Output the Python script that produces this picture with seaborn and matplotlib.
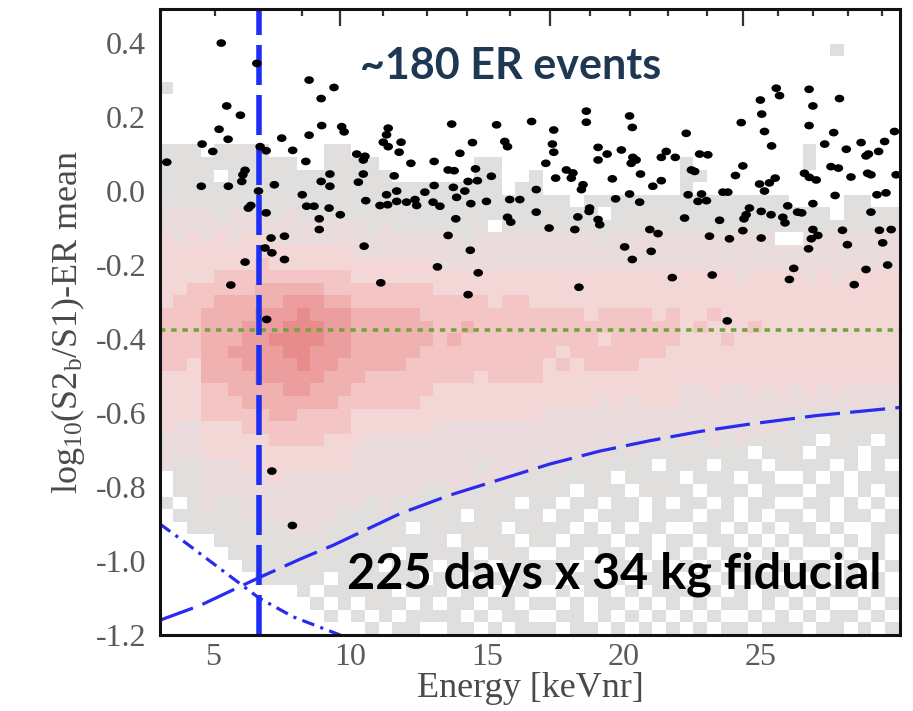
import numpy as np
import pandas as pd
import matplotlib
matplotlib.use("Agg")
import matplotlib.pyplot as plt
import seaborn as sns
from matplotlib.colors import ListedColormap
from matplotlib.ticker import MultipleLocator, FixedLocator, FormatStrFormatter
from matplotlib.path import Path
from matplotlib.transforms import Affine2D

# ---------------- data ----------------
ev_x = [5.30, 6.60, 8.51, 9.42, 8.95, 5.50, 6.00, 5.22, 5.55, 8.97, 9.70, 9.79, 8.51, 7.51, 4.60, 4.99,
        6.72, 6.94, 7.91, 3.31, 8.39, 6.17, 6.09, 6.05, 9.27, 8.95, 9.27, 4.57, 5.56, 7.24, 6.66, 8.26,
        6.29, 6.38, 6.94, 8.42, 8.69, 9.24, 9.65, 8.88, 8.88, 7.12, 7.61, 6.90, 7.15, 7.61, 6.17, 5.65,
        6.96, 7.15, 7.90,
        11.40, 11.34, 11.22, 11.40, 11.87, 11.80, 13.72, 15.36, 16.64, 15.66, 15.76, 14.48, 14.02, 10.25,
        10.55, 10.49, 12.23, 13.08, 13.59, 13.81, 14.59, 15.17, 10.49, 10.31, 11.62, 14.32, 14.66, 13.08,
        13.78, 14.20, 11.71, 11.34, 12.74, 13.90, 10.58, 11.10, 11.38, 11.71, 12.07, 12.38, 12.44, 13.04,
        13.29, 14.42, 14.99, 15.84, 16.21, 15.76, 15.88, 13.87, 13.59, 10.52, 14.40, 13.20, 14.69, 11.13,
        14.32,
        18.64, 18.64, 20.22, 20.32, 17.45, 22.29, 17.40, 17.45, 17.16, 19.07, 19.40, 19.07, 19.92, 20.34,
        20.46, 20.28, 21.56, 21.38, 21.89, 22.78, 23.08, 17.91, 18.15, 18.09, 17.52, 18.52, 18.46, 19.59,
        20.62, 21.38, 21.07, 22.48, 22.60, 16.81, 19.71, 20.22, 20.59, 22.36, 22.85, 23.03, 22.72, 16.81,
        18.76, 18.74, 18.33, 19.07, 19.13, 17.28, 18.22, 22.23, 20.96, 21.26, 23.14, 20.04, 20.32, 21.01,
        21.78, 23.24, 18.37,
        25.58, 25.70, 26.78, 27.89, 25.00, 26.92, 25.05, 24.30, 26.78, 25.15, 27.68, 29.90, 25.41, 27.35,
        28.14, 28.68, 29.54, 28.86, 28.95, 29.32, 24.36, 27.58, 27.85, 24.09, 26.61, 26.79, 27.04, 28.31,
        28.92, 29.04, 29.96, 25.54, 25.33, 25.15, 24.97, 23.63, 23.81, 27.73, 29.26, 29.59, 24.60, 24.48,
        24.40, 25.03, 25.39, 26.00, 26.36, 26.51, 25.82, 25.90, 26.92, 29.04, 23.51, 24.36, 23.87, 25.03,
        26.92, 27.10, 26.86, 28.00, 29.35, 29.78, 26.76, 28.18, 29.47, 26.22, 26.06, 28.86, 29.65, 28.43,
        23.79]
ev_y = [0.400, 0.345, 0.300, 0.280, 0.250, 0.230, 0.205, 0.167, 0.140, 0.177, 0.174, 0.160, 0.151, 0.143,
        0.127, 0.107, 0.120, 0.109, 0.110, 0.078, 0.080, 0.056, 0.044, 0.026, 0.046, 0.026, 0.013, 0.013,
        0.013, 0.017, 0.000, -0.010, -0.046, -0.039, -0.059, -0.041, -0.041, -0.046, -0.064, -0.075,
        -0.104, -0.127, -0.122, -0.154, -0.167, -0.185, -0.192, -0.254, -0.347, -0.757, -0.904,
        0.170, 0.152, 0.132, 0.120, 0.132, 0.105, 0.181, 0.179, 0.188, 0.134, 0.120, 0.131, 0.102, 0.100,
        0.094, 0.084, 0.075, 0.080, 0.057, 0.055, 0.060, 0.040, 0.046, 0.024, 0.041, 0.026, 0.028, 0.015,
        0.010, 0.000, 0.000, -0.010, -0.003, -0.017, -0.026, -0.039, -0.037, -0.028, -0.030, -0.023,
        -0.039, -0.030, -0.041, -0.034, -0.028, -0.023, -0.023, -0.071, -0.084, -0.075, -0.120, -0.149,
        -0.160, -0.205, -0.221, -0.248, -0.280,
        0.216, 0.186, 0.203, 0.172, 0.165, 0.156, 0.127, 0.105, 0.075, 0.118, 0.100, 0.084, 0.111, 0.091,
        0.084, 0.075, 0.107, 0.091, 0.091, 0.100, 0.098, 0.057, 0.049, 0.035, 0.035, 0.017, 0.004, 0.033,
        0.046, 0.028, 0.013, 0.057, 0.053, 0.004, -0.021, -0.008, -0.030, -0.010, -0.008, -0.026, -0.028,
        -0.057, -0.046, -0.055, -0.070, -0.077, -0.091, -0.100, -0.104, -0.073, -0.104, -0.115, -0.122,
        -0.151, -0.185, -0.163, -0.234, -0.227, -0.260,
        0.278, 0.258, 0.275, 0.250, 0.246, 0.230, 0.208, 0.185, 0.177, 0.161, 0.158, 0.161, 0.122, 0.127,
        0.113, 0.131, 0.134, 0.095, 0.100, 0.107, 0.068, 0.066, 0.062, 0.042, 0.048, 0.037, 0.030, 0.038,
        0.048, 0.044, 0.044, 0.035, 0.022, 0.000, 0.019, -0.003, -0.003, -0.012, -0.010, -0.005, -0.046,
        -0.064, -0.075, -0.055, -0.064, -0.040, -0.057, -0.059, -0.071, -0.086, -0.034, -0.057, -0.079,
        -0.107, -0.129, -0.127, -0.104, -0.120, -0.129, -0.106, -0.106, -0.104, -0.156, -0.145, -0.140,
        -0.209, -0.239, -0.212, -0.200, -0.253, -0.351]

# threshold / band curves
cut_x = [3.06, 4.53, 5.73, 6.68, 8.18, 9.40, 11.83, 13.65, 15.48, 17.30, 19.13, 20.95, 22.78, 24.60, 27.04, 30.10]
cut_y = [-1.160, -1.120, -1.078, -1.045, -0.995, -0.957, -0.872, -0.822, -0.780, -0.738, -0.703, -0.675,
         -0.650, -0.630, -0.607, -0.585]
nr_x = [3.06, 4.04, 5.01, 6.68, 7.93, 9.64, 10.0]
nr_y = [-0.900, -0.953, -1.007, -1.100, -1.151, -1.200, -1.212]
threshold_energy = 6.68
er_median_line = -0.375

# 2D-histogram intensity levels (0 = empty ... 7 = most counts), rows from top (y=0.5) to bottom (y=-1.2),
# columns 0.5 keVnr wide from 3.05 keVnr
heat_rows = [
    "000 000 00 000000 000000 00000000 0000000000 00000000 00000000",
    "000 000 00 000000 000000 00000000 0000000000 00000000 00000000",
    "000 000 00 000000 000000 00000000 0000000000 00000000 00000000",
    "000 000 00 000000 000000 00000000 0000000000 00000000 00010000",
    "000 000 00 000000 000000 00000000 0000000000 00000000 00000000",
    "000 000 00 000000 000000 00000000 0000000000 00000000 00000000",
    "100 000 00 000000 000000 00000000 0000000000 00000000 00000000",
    "000 000 00 000000 000000 00000000 0000000000 00000000 00000000",
    "000 000 00 000000 000000 00000000 0000000000 00000000 00000000",
    "000 000 00 000000 000000 00000000 0000000000 00000000 00000000",
    "000 000 00 000000 000000 00000000 0000000000 00000000 00000000",
    "111 011 11 000011 000000 00000000 0000000000 00000000 01000000",
    "111 111 11 110011 110000 00011000 0000000000 10000000 01000000",
    "111 101 11 111111 111000 00011001 0000000000 11000000 00000000",
    "111 111 11 111111 111111 11111011 0000000000 10000000 00000000",
    "111 111 11 111111 111111 11111111 1101111111 11111111 00001100",
    "222 212 22 121111 111111 11111111 1111011111 11111111 11101111",
    "222 222 22 222222 212111 11110111 1111111111 11111111 11111111",
    "323 232 33 222222 222222 22122222 2222122222 22222220 02222222",
    "333 333 33 333333 222222 22222222 2222222222 22222222 22222222",
    "333 333 34 333333 333333 22222222 2222222222 22222222 22222222",
    "333 344 44 444444 333333 33333333 3333333333 33332333 32323333",
    "334 444 45 555544 444444 33333333 3333333333 33333333 33333333",
    "344 455 55 566655 444444 44443443 3333333333 33333333 33333333",
    "444 555 56 667666 555554 44444444 4443444434 33433333 33333333",
    "444 555 66 677766 555555 44544444 4444444444 34333433 33333333",
    "444 555 66 777766 555555 45444444 4444344444 33343333 33333333",
    "444 556 66 677666 555554 44444444 4344444443 33333333 33333333",
    "443 555 66 667665 555544 44444444 3434444333 33333333 33333333",
    "333 555 56 666655 544444 44434444 3333333333 33333333 33333333",
    "333 445 55 566555 444444 33333333 3333333333 22322323 23232222",
    "333 444 55 555554 444443 33333333 3333232333 22222222 22222222",
    "333 444 44 554444 333333 33333333 2222222222 22222222 11111111",
    "322 333 44 444444 333333 22222222 2222222222 22222222 11111111",
    "222 333 33 444433 322222 22222222 2222221221 21212111 11011101",
    "222 333 33 333333 222222 22222222 2222212111 11111011 10111011",
    "211 222 33 333333 222222 22212222 1211111101 11011101 11101010",
    "011 222 22 322222 222222 22222211 1111101111 01110110 01010111",
    "011 222 22 222222 222221 12211111 1101110111 10111011 10110101",
    "101 211 22 222222 212111 11111101 1011011010 11010110 01101010",
    "011 111 22 222221 111111 11011111 0110111011 10110101 10101101",
    "001 111 11 122211 111101 11111011 1101010110 01101010 11010011",
    "000 011 11 111111 111111 10111101 1011101101 10110101 01101010",
    "000 001 11 111111 111011 11101110 0110110101 01011010 10010110",
    "000 000 11 111111 110111 01110111 1101011010 10101101 01101001",
    "000 000 01 111101 111110 11011011 1011010110 01010110 10101010",
    "000 000 00 001011 111011 10110110 0101101011 10101011 01011010",
    "000 000 00 000101 011101 01101101 1010110101 01011010 10100101",
    "000 000 00 000010 101011 11010110 0110101010 10100101 01011010",
    "000 000 00 000000 010110 01101011 1011010101 01011011 10110101",
]
level_colors = ["#e1dede", "#eadcdc", "#f3d6d6", "#f3c5c5", "#f0b1b1", "#ec9e9e", "#e78b8b"]

x_ticks = [5, 10, 15, 20, 25]
top_major = [9.64, 17.32, 24.38]
top_minor = [5.07, 6.68, 8.25, 11.22, 12.82, 14.29, 15.86, 18.78, 20.25, 21.64, 23.06, 25.66, 26.94, 28.22, 29.46]

# ---------------- build histogram table ----------------
n_cols, n_rows = 54, len(heat_rows)
x_edges = 3.05 + 0.5 * np.arange(n_cols + 1)
y_edges = 0.5 - 0.034 * np.arange(n_rows + 1)
recs = []
for r, row in enumerate(heat_rows):
    s = row.replace(" ", "")
    s = (s + "0" * n_cols)[:n_cols]
    for c, ch in enumerate(s):
        v = int(ch)
        if v > 0:
            recs.append({"E": 0.5 * (x_edges[c] + x_edges[c + 1]),
                         "L": 0.5 * (y_edges[r] + y_edges[r + 1]),
                         "w": v})
heat = pd.DataFrame(recs)

# ---------------- style ----------------
sns.set_style("white")
plt.rcParams['font.family'] = ['Liberation Serif', 'DejaVu Serif']
plt.rcParams['mathtext.fontset'] = 'custom'
plt.rcParams['mathtext.rm'] = 'Liberation Serif'
plt.rcParams['mathtext.it'] = 'Liberation Serif:italic'
plt.rcParams['axes.unicode_minus'] = False

fig = plt.figure(figsize=(9.13, 7.11), dpi=100)
ax = fig.add_axes([0.1752, 0.1069, 0.8105, 0.8804])

cmap = ListedColormap(level_colors)
sns.histplot(data=heat, x="E", y="L", weights="w",
             bins=[x_edges, y_edges[::-1]], cmap=cmap, vmin=0.5, vmax=7.5,
             ax=ax, zorder=1, linewidth=0)

# lines
ax.plot(cut_x, cut_y, color="#2a2af0", lw=2.3, dashes=(11, 3.2), zorder=3)
ax.plot(nr_x, nr_y, color="#2a2af0", lw=2.3, dashes=(4, 2, 1, 2), zorder=3)
ax.axvline(threshold_energy, color="#1f2ef5", lw=4, dashes=(7.2, 1.8), zorder=4)
ax.axhline(er_median_line, color="#72a43c", lw=2.6, dashes=(1.5, 1.6), zorder=3)

# events
ell = Path.unit_circle().transformed(Affine2D().scale(1.25, 1.0))
sns.scatterplot(x=ev_x, y=ev_y, ax=ax, color="black", marker=ell, s=48,
                edgecolor="none", linewidth=0, zorder=5)

ax.set_xlim(3.06, 30.1)
ax.set_ylim(-1.2, 0.492)

# ticks
ax.xaxis.set_major_locator(FixedLocator(x_ticks))
ax.xaxis.set_minor_locator(MultipleLocator(1))
ax.yaxis.set_major_locator(MultipleLocator(0.2))
ax.yaxis.set_minor_locator(MultipleLocator(0.05))
ax.yaxis.set_major_formatter(FormatStrFormatter("%.1f"))
ax.tick_params(axis="x", which="major", direction="in", length=13, width=1.8, pad=6,
               labelsize=23, labelcolor="#5a5a5a", color="#222222")
ax.tick_params(axis="x", which="minor", direction="in", length=7, width=1.6, color="#222222")
ax.tick_params(axis="y", which="major", direction="in", length=24, width=1.8, pad=10,
               labelsize=23, labelcolor="#5a5a5a", color="#222222")
ax.tick_params(axis="y", which="minor", direction="in", length=12, width=1.6, color="#222222")
ax.tick_params(top=False, right=False)

sec = ax.secondary_xaxis("top")
sec.set_xticks(top_major)
sec.xaxis.set_minor_locator(FixedLocator(top_minor))
sec.tick_params(axis="x", which="major", direction="in", length=12, width=1.6, labeltop=False, color="#333333")
sec.tick_params(axis="x", which="minor", direction="in", length=5, width=1.6, color="#333333")
sec.set_xticklabels([])
sec.spines["top"].set_linewidth(2.0)
sec.spines["top"].set_color("#222222")

for sp in ax.spines.values():
    sp.set_linewidth(2.2)
    sp.set_color("#111111")
    sp.set_visible(True)
    sp.set_zorder(6)

ax.set_xlabel("Energy [keVnr]", fontsize=26, color="#4a4a4a", labelpad=0)
ax.set_ylabel(r"log$_{10}$(S2$_\mathrm{b}$/S1)-ER mean", fontsize=26, color="#4a4a4a", labelpad=6)

ax.text(10.37, 0.3035, "~180 ER events", fontfamily="Lato", fontweight="bold",
        fontsize=31, color="#1e3752", ha="left", va="baseline", zorder=7)
ax.text(9.90, -1.073, "225 days x 34 kg fiducial", fontfamily="Lato", fontweight="bold",
        fontsize=35, color="black", ha="left", va="baseline", zorder=7)

fig.savefig("out.png", dpi=100)
